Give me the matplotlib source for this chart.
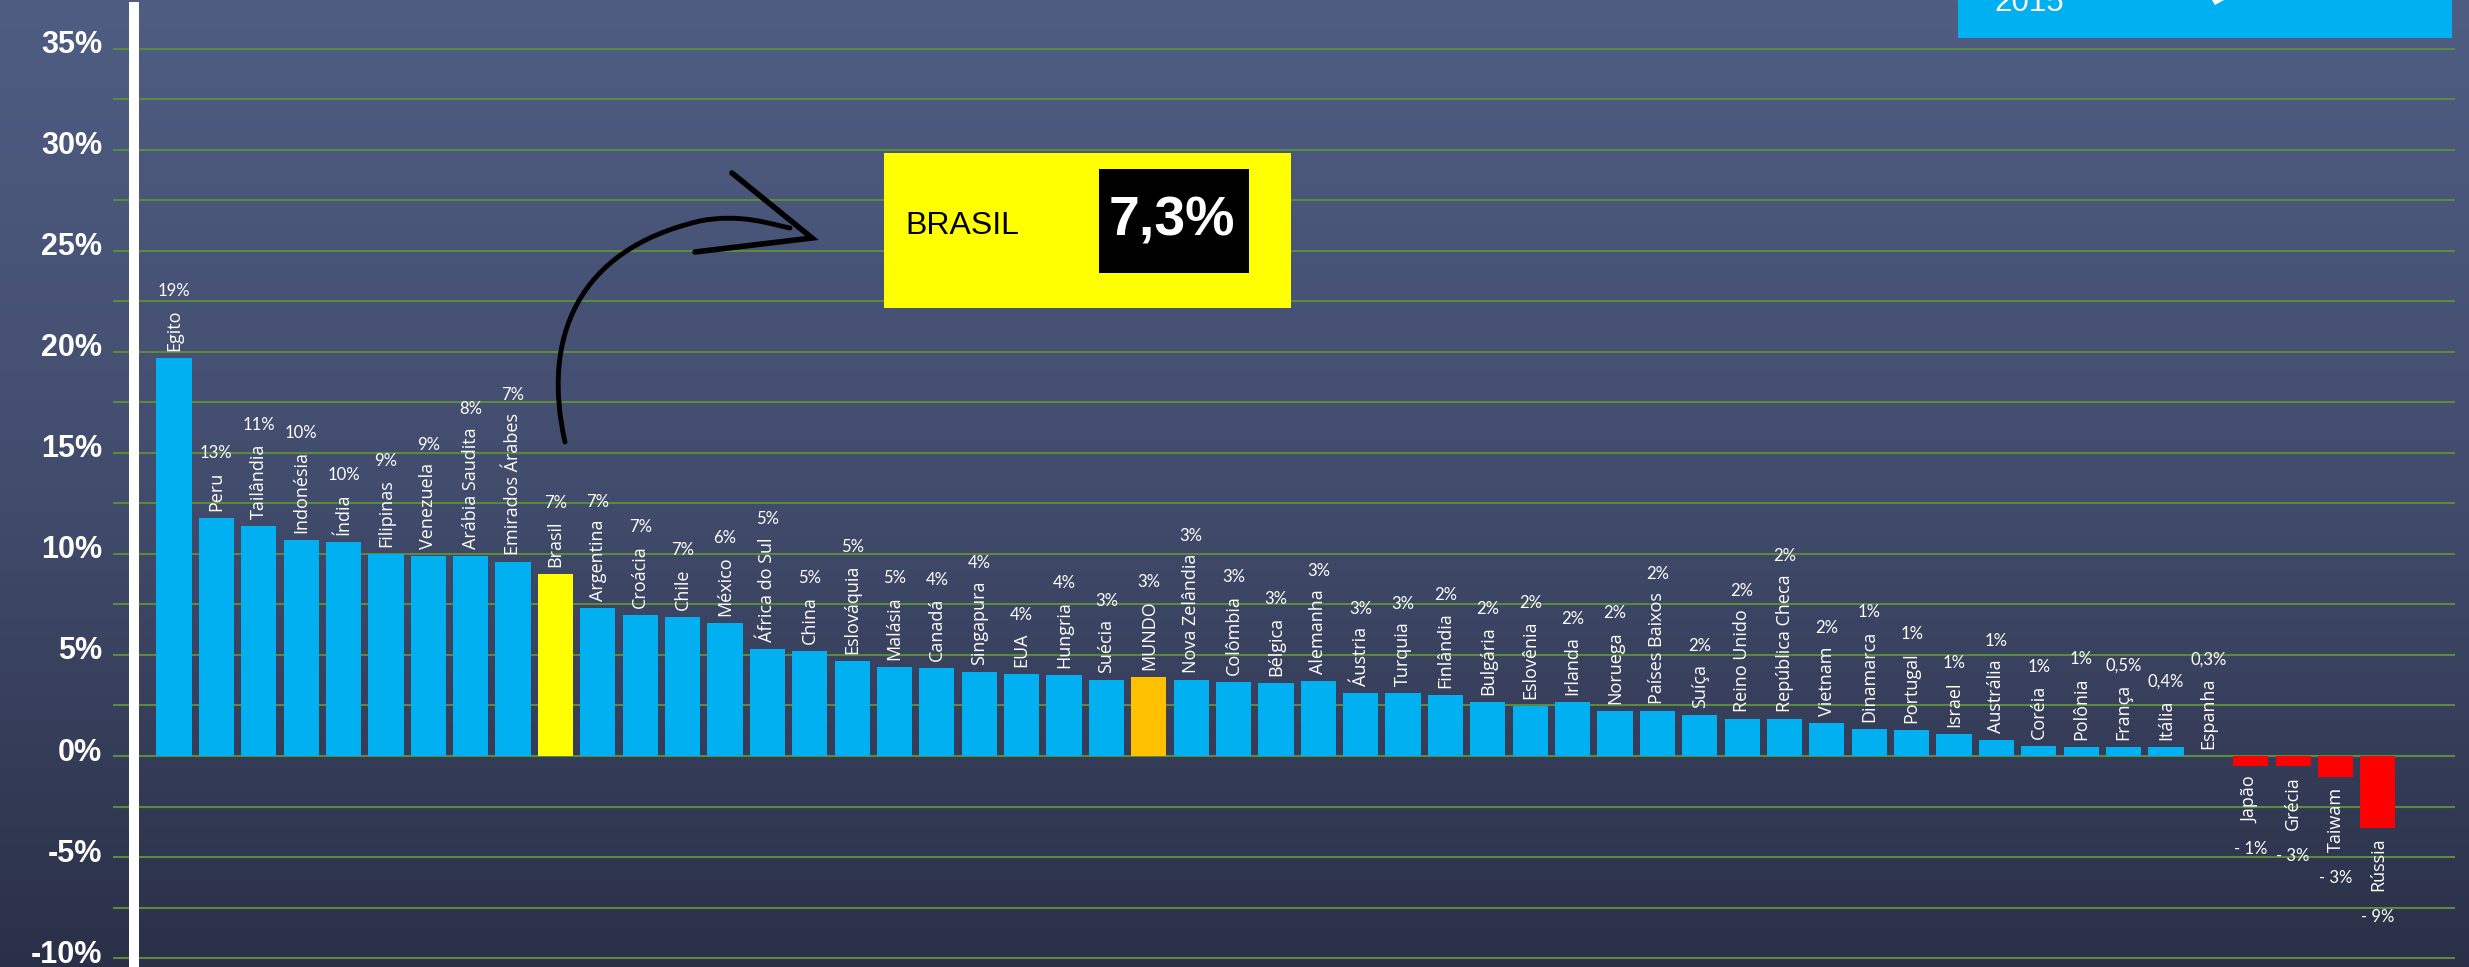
import numpy as np
import matplotlib
matplotlib.use('Agg')
import matplotlib.pyplot as plt
import matplotlib.transforms as mtransforms
from matplotlib.patches import Rectangle, Polygon, PathPatch
from matplotlib.path import Path
from matplotlib.colors import LinearSegmentedColormap
from matplotlib.ticker import FixedLocator, FuncFormatter

# data
countries = ['Egito', 'Peru', 'Tailândia', 'Indonésia', 'Índia', 'Filipinas',
             'Venezuela', 'Arábia Saudita', 'Emirados Árabes', 'Brasil',
             'Argentina', 'Croácia', 'Chile', 'México', 'África do Sul', 'China',
             'Eslováquia', 'Malásia', 'Canadá', 'Singapura', 'EUA', 'Hungria',
             'Suécia', 'MUNDO', 'Nova Zelândia', 'Colômbia', 'Bélgica', 'Alemanha',
             'Áustria', 'Turquia', 'Finlândia', 'Bulgária', 'Eslovênia', 'Irlanda',
             'Noruega', 'Países Baixos', 'Suíça', 'Reino Unido', 'República Checa',
             'Vietnam', 'Dinamarca', 'Portugal', 'Israel', 'Austrália', 'Coréia',
             'Polônia', 'França', 'Itália', 'Espanha', 'Japão', 'Grécia', 'Taiwam',
             'Rússia']
# bar heights (%)
growth = [19.7, 11.8, 11.4, 10.7, 10.6, 10.0, 9.9, 9.9, 9.6, 9.0,
          7.3, 7.0, 6.9, 6.6, 5.3, 5.2, 4.7, 4.4, 4.35, 4.15, 4.05, 4.0,
          3.75, 3.9, 3.75, 3.65, 3.6, 3.7, 3.1, 3.1, 3.0, 2.65, 2.45, 2.65,
          2.25, 2.25, 2.05, 1.85, 1.85, 1.65, 1.35, 1.3, 1.1, 0.8, 0.5,
          0.45, 0.45, 0.45, 0.0, -0.5, -0.5, -1.05, -3.55]
# printed value labels
value_labels = ['19%', '13%', '11%', '10%', '10%', '9%', '9%', '8%', '7%', '7%',
                '7%', '7%', '7%', '6%', '5%', '5%', '5%', '5%', '4%', '4%', '4%', '4%',
                '3%', '3%', '3%', '3%', '3%', '3%', '3%', '3%', '2%', '2%', '2%', '2%',
                '2%', '2%', '2%', '2%', '2%', '2%', '1%', '1%', '1%', '1%', '1%',
                '1%', '0,5%', '0,4%', '0,3%', '- 1%', '- 3%', '- 3%', '- 9%']

W, H = 2469, 967
green = '#5a8a3c'

fig = plt.figure(figsize=(W / 100, H / 100), dpi=100)

# background gradient
bg = fig.add_axes([0, 0, 1, 1], zorder=0)
cmap = LinearSegmentedColormap.from_list('bg', ['#2a3047', '#424c6d', '#4f5d83'])
bg.imshow(np.linspace(0, 1, 256).reshape(-1, 1), aspect='auto', cmap=cmap,
          origin='lower', extent=[0, 1, 0, 1])
bg.axis('off')

ax = fig.add_axes([134 / W, 0, (2455 - 134) / W, (H - 7) / H], zorder=1)
ax.patch.set_alpha(0)

x = np.arange(len(countries))
colors = []
for c, v in zip(countries, growth):
    if c == 'Brasil':
        colors.append('#ffff00')
    elif c == 'MUNDO':
        colors.append('#ffc000')
    elif v < 0:
        colors.append('#ff0000')
    else:
        colors.append('#00b0f0')
ax.bar(x, growth, width=0.83, color=colors, zorder=3)

ax.set_xlim(-0.944, 53.82)
ax.set_ylim(-10.44, 37.06)
for s in ['top', 'right', 'bottom']:
    ax.spines[s].set_visible(False)
ax.spines['left'].set_color('white')
ax.spines['left'].set_linewidth(7.2)
ax.spines['left'].set_zorder(4)
ax.set_xticks([])

ax.yaxis.set_major_locator(FixedLocator(np.arange(-10, 35.1, 2.5)))
ax.yaxis.set_major_formatter(FuncFormatter(lambda v, p: f'{v:.0f}%' if v % 5 == 0 else ''))
ax.tick_params(axis='y', length=15, width=1.5, color=green, pad=8,
               labelsize=22, labelcolor='white')
ax.yaxis.grid(True, color=green, lw=1.5)
ax.set_axisbelow(True)
up = mtransforms.ScaledTranslation(0, 7 / 100, fig.dpi_scale_trans)
for lab in ax.get_yticklabels():
    lab.set_fontfamily('Liberation Sans')
    lab.set_fontweight('bold')
    lab.set_transform(lab.get_transform() + up)

# country names on the bars
names = []
for xi, v, nm in zip(x, growth, countries):
    if v >= 0:
        t = ax.annotate(nm, (xi, v), xytext=(0, 7), textcoords='offset pixels',
                        rotation=90, ha='center', va='bottom', color='white',
                        fontsize=13, family='Open Sans', zorder=5)
    else:
        t = ax.annotate(nm, (xi, v), xytext=(0, -10), textcoords='offset pixels',
                        rotation=90, ha='center', va='top', color='white',
                        fontsize=13, family='Open Sans', zorder=5)
    names.append(t)

fig.canvas.draw()
rend = fig.canvas.get_renderer()
for t, xi, v, lab in zip(names, x, growth, value_labels):
    h = t.get_window_extent(rend).height
    dy = 7 + h + 18 if v >= 0 else -10 - h - 26
    ax.annotate(lab, (xi, v), xytext=(0, dy), textcoords='offset pixels',
                ha='center', va='center', color='white', fontsize=12,
                family='Lato', zorder=5)

# overlay for the slide decorations (pixel coordinates)
ov = fig.add_axes([0, 0, 1, 1], zorder=5)
ov.set_xlim(0, W)
ov.set_ylim(H, 0)
ov.axis('off')
ov.patch.set_alpha(0)

ov.add_patch(Rectangle((884, 153), 407, 155, fc='#ffff00', ec='none'))
ov.add_patch(Rectangle((1099, 169), 150, 104, fc='black', ec='none'))
ov.text(905, 226, 'BRASIL', fontsize=23, family='Liberation Sans',
        ha='left', va='center', color='black')
ov.text(1172, 222, '7,3%', fontsize=40, family='Liberation Sans', weight='bold',
        ha='center', va='center', color='white')

ov.add_patch(Rectangle((1958, -5), 494, 43, fc='#00b0f0', ec='none'))
ov.text(1994, 11, '2015', fontsize=22.5, family='Liberation Sans',
        ha='left', va='baseline', color='white')
ov.add_patch(Polygon([(2212, 0), (2224, 0), (2215, 5)], closed=True,
                     fc='white', ec='none'))

# hand drawn arrow pointing to the box
verts = [(565, 442), (542, 340), (575, 250), (700, 221), (740, 213), (770, 224), (790, 228)]
codes = [Path.MOVETO, Path.CURVE4, Path.CURVE4, Path.CURVE4,
         Path.CURVE4, Path.CURVE4, Path.CURVE4]
ov.add_patch(PathPatch(Path(verts, codes), fc='none', ec='black', lw=3.5,
                       capstyle='round'))
ov.plot([732, 812, 695], [173, 238, 252], color='black', lw=4,
        solid_joinstyle='miter', solid_capstyle='round')

fig.savefig('out.png', dpi=100)
